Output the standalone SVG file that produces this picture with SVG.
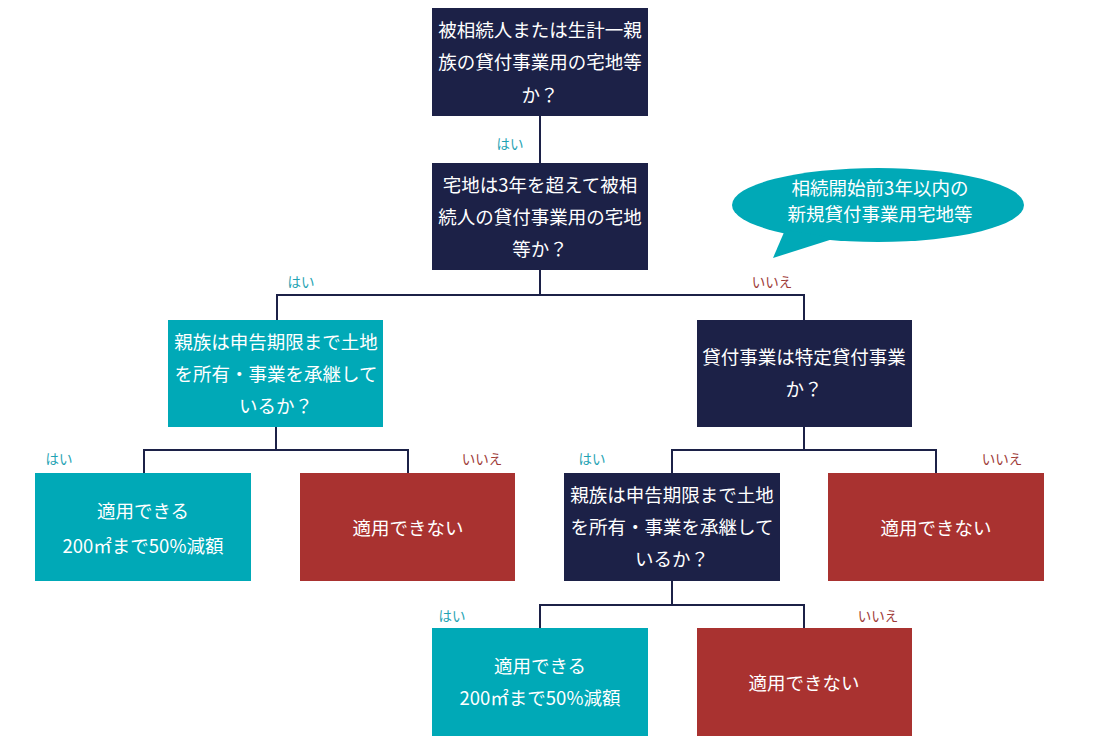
<svg xmlns="http://www.w3.org/2000/svg" width="1105" height="749" viewBox="0 0 1105 749">
<style>
.navy{fill:#1c2147}
.teal{fill:#00a9b7}
.red{fill:#a93230}
.t{font-family:"Noto Sans CJK JP","Noto Sans",sans-serif;font-size:18.5px;fill:#ffffff;text-anchor:middle;dominant-baseline:central}
.yes{font-family:"Noto Sans CJK JP","Noto Sans",sans-serif;font-size:13.5px;fill:#1fa3b3;text-anchor:middle;dominant-baseline:central}
.no{font-family:"Noto Sans CJK JP","Noto Sans",sans-serif;font-size:13.5px;fill:#9e3a36;text-anchor:middle;dominant-baseline:central}
.ln{fill:none;stroke:#1c2147;stroke-width:2}
</style>
<rect width="1105" height="749" fill="#ffffff"/>
<g id="connectors">
<path class="ln" d="M540 116V163"/>
<path class="ln" d="M540 270V295M277 320V295H804V320"/>
<path class="ln" d="M276 427V450M144 473V450H408V473"/>
<path class="ln" d="M804 427V450M672 473V450H936V473"/>
<path class="ln" d="M672 581V605M540 628V605H804V628"/>
<text class="yes" x="510" y="143">はい</text>
<text class="yes" x="301" y="281">はい</text>
<text class="no" x="772" y="281">いいえ</text>
<text class="yes" x="59" y="458">はい</text>
<text class="no" x="482" y="458">いいえ</text>
<text class="yes" x="592" y="458">はい</text>
<text class="no" x="1002" y="458">いいえ</text>
<text class="yes" x="452" y="615">はい</text>
<text class="no" x="878" y="615">いいえ</text>
</g>
<g id="q1">
<rect class="navy" x="432" y="8" width="216" height="108"/>
<text class="t" x="540" y="29">被相続人または生計一親</text>
<text class="t" x="540" y="61">族の貸付事業用の宅地等</text>
<text class="t" x="540" y="94">か？</text>
</g>
<g id="q2">
<rect class="navy" x="432" y="163" width="216" height="107"/>
<text class="t" x="540" y="184">宅地は3年を超えて被相</text>
<text class="t" x="540" y="216">続人の貸付事業用の宅地</text>
<text class="t" x="540" y="248">等か？</text>
</g>
<g id="bubble">
<ellipse class="teal" cx="878" cy="205" rx="146" ry="37"/>
<polygon class="teal" points="785,230 836,238 773,258"/>
<text class="t" x="880" y="187">相続開始前3年以内の</text>
<text class="t" x="880" y="213">新規貸付事業用宅地等</text>
</g>
<g id="q3">
<rect class="teal" x="168" y="320" width="215" height="107"/>
<text class="t" x="276" y="341">親族は申告期限まで土地</text>
<text class="t" x="276" y="373">を所有・事業を承継して</text>
<text class="t" x="276" y="405">いるか？</text>
</g>
<g id="q4">
<rect class="navy" x="697" y="320" width="215" height="107"/>
<text class="t" x="804" y="356">貸付事業は特定貸付事業</text>
<text class="t" x="804" y="388">か？</text>
</g>
<g id="r1">
<rect class="teal" x="35" y="473" width="216" height="108"/>
<text class="t" x="143" y="510">適用できる</text>
<text class="t" x="143" y="545">200㎡まで50%減額</text>
</g>
<g id="r2">
<rect class="red" x="300" y="473" width="215" height="108"/>
<text class="t" x="408" y="527">適用できない</text>
</g>
<g id="q5">
<rect class="navy" x="564" y="473" width="216" height="108"/>
<text class="t" x="672" y="494">親族は申告期限まで土地</text>
<text class="t" x="672" y="526">を所有・事業を承継して</text>
<text class="t" x="672" y="558">いるか？</text>
</g>
<g id="r3">
<rect class="red" x="828" y="473" width="216" height="108"/>
<text class="t" x="936" y="527">適用できない</text>
</g>
<g id="r4">
<rect class="teal" x="432" y="628" width="216" height="108"/>
<text class="t" x="540" y="665">適用できる</text>
<text class="t" x="540" y="697">200㎡まで50%減額</text>
</g>
<g id="r5">
<rect class="red" x="697" y="628" width="215" height="108"/>
<text class="t" x="804" y="682">適用できない</text>
</g>
</svg>
